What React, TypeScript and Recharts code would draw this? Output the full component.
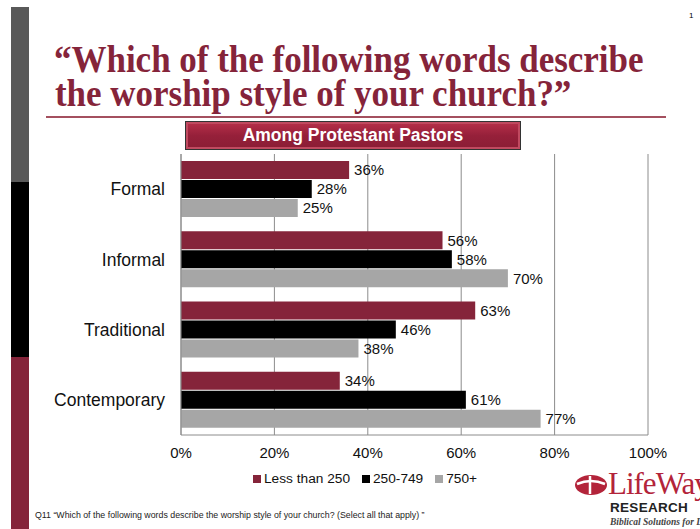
import React from "react";
import { BarChart, Bar, XAxis, YAxis, CartesianGrid, LabelList } from "recharts";

const categories = ["Formal", "Informal", "Traditional", "Contemporary"];
const lessThan250 = [36, 56, 63, 34];
const from250to749 = [28, 58, 46, 61];
const over750 = [25, 70, 38, 77];
const xTicks = [0, 20, 40, 60, 80, 100];

const seriesNames = ["Less than 250", "250-749", "750+"];
const seriesColors = ["#85243a", "#000000", "#a6a6a6"];

const chartData = categories.map((cat, i) => ({
  name: cat,
  s1: lessThan250[i],
  s2: from250to749[i],
  s3: over750[i],
}));

const maroon = "#85243a";

export default function App() {
  const keys = ["s1", "s2", "s3"];
  return (
    <div
      style={{
        position: "absolute",
        left: 0,
        top: 0,
        width: 700,
        height: 529,
        overflow: "hidden",
        background: "#fff",
        fontFamily: "'Liberation Sans', Arial, sans-serif",
      }}
    >
      {/* left side stripe */}
      <div style={{ position: "absolute", left: 11, top: 7, width: 18, height: 175, background: "#595959" }} />
      <div style={{ position: "absolute", left: 11, top: 182, width: 18, height: 175, background: "#000" }} />
      <div style={{ position: "absolute", left: 11, top: 357, width: 18, height: 172, background: maroon }} />

      <div style={{ position: "absolute", left: 689, top: 11, fontSize: 8, color: "#000" }}>1</div>

      <div
        style={{
          position: "absolute",
          left: 54,
          top: 43,
          fontFamily: "'Liberation Serif', 'Times New Roman', serif",
          fontWeight: "bold",
          fontSize: 37,
          lineHeight: "34px",
          color: maroon,
          whiteSpace: "nowrap",
          transform: "scaleX(0.945)",
          transformOrigin: "left top",
        }}
      >
        <div>“Which of the following words describe</div>
        <div style={{ marginLeft: 1 }}>the worship style of your church?”</div>
      </div>
      <div style={{ position: "absolute", left: 46, top: 116, width: 620, height: 2, background: "#a4505f" }} />

      <div
        style={{
          position: "absolute",
          left: 185,
          top: 121,
          width: 334,
          height: 27,
          border: "1px solid #333",
          background: "linear-gradient(#b8304a, #96203a 50%, #8a1d35)",
          boxShadow: "inset 0 0 0 2px #c04a60",
          color: "#fff",
          fontWeight: "bold",
          fontSize: 17.5,
          lineHeight: "27px",
          textAlign: "center",
        }}
      >
        Among Protestant Pastors
      </div>

      <div style={{ position: "absolute", left: 0, top: 0 }}>
        <BarChart
          width={700}
          height={529}
          data={chartData}
          layout="vertical"
          margin={{ top: 154, right: 52, bottom: 64, left: 0 }}
          barCategoryGap="10%"
          barGap={1}
        >
          <CartesianGrid horizontal={false} stroke="#8c8c8c" />
          <XAxis
            type="number"
            domain={[0, 100]}
            ticks={xTicks}
            tickFormatter={(v: number) => `${v}%`}
            axisLine={{ stroke: "#8c8c8c" }}
            tickLine={false}
            tickSize={0}
            tickMargin={12}
            height={30}
            tick={{ fill: "#111", fontSize: 15 }}
          />
          <YAxis
            type="category"
            dataKey="name"
            width={181}
            axisLine={{ stroke: "#8c8c8c" }}
            tickLine={false}
            tickSize={0}
            tickMargin={16}
            tick={{ fill: "#111", fontSize: 17.5 }}
          />
          {keys.map((k, i) => (
            <Bar key={k} dataKey={k} name={seriesNames[i]} fill={seriesColors[i]} isAnimationActive={false}>
              <LabelList
                dataKey={k}
                position="right"
                offset={5}
                formatter={(v: any) => `${v}%`}
                style={{ fill: "#111", fontSize: 15 }}
              />
            </Bar>
          ))}
        </BarChart>
      </div>

      {/* legend */}
      <div
        style={{
          position: "absolute",
          left: 253,
          top: 471,
          display: "flex",
          alignItems: "center",
          fontSize: 13.7,
          color: "#111",
          whiteSpace: "nowrap",
        }}
      >
        {seriesNames.map((n, i) => (
          <div key={n} style={{ display: "flex", alignItems: "center", marginRight: 12 }}>
            <span style={{ display: "inline-block", width: 8, height: 8, background: seriesColors[i], marginRight: 3 }} />
            {n}
          </div>
        ))}
      </div>

      <div style={{ position: "absolute", left: 35, top: 510, fontSize: 8.8, color: "#222", whiteSpace: "nowrap" }}>
        Q11 “Which of the following words describe the worship style of your church? (Select all that apply) ”
      </div>

      {/* logo */}
      <svg style={{ position: "absolute", left: 574, top: 474 }} width={34} height={22}>
        <ellipse cx={17} cy={11} rx={16} ry={10} fill="#b3243a" />
        <path d="M3 10 Q17 4 31 10" stroke="#fff" strokeWidth={2.5} fill="none" />
        <path d="M16 2 L16 20" stroke="#fff" strokeWidth={2.5} />
      </svg>
      <div
        style={{
          position: "absolute",
          left: 608,
          top: 467,
          fontFamily: "'Liberation Serif', 'Times New Roman', serif",
          fontSize: 31,
          lineHeight: "34px",
          color: "#b3243a",
          whiteSpace: "nowrap",
          letterSpacing: -1,
        }}
      >
        LifeWay
      </div>
      <div
        style={{
          position: "absolute",
          left: 610,
          top: 500,
          fontSize: 13.5,
          lineHeight: "16px",
          fontWeight: "bold",
          color: "#222",
          letterSpacing: 0.3,
          whiteSpace: "nowrap",
        }}
      >
        RESEARCH
      </div>
      <div
        style={{
          position: "absolute",
          left: 610,
          top: 516,
          fontFamily: "'Liberation Serif', 'Times New Roman', serif",
          fontStyle: "italic",
          fontWeight: "bold",
          fontSize: 9.5,
          lineHeight: "12px",
          color: "#444",
          whiteSpace: "nowrap",
        }}
      >
        Biblical Solutions for Life
      </div>
    </div>
  );
}
